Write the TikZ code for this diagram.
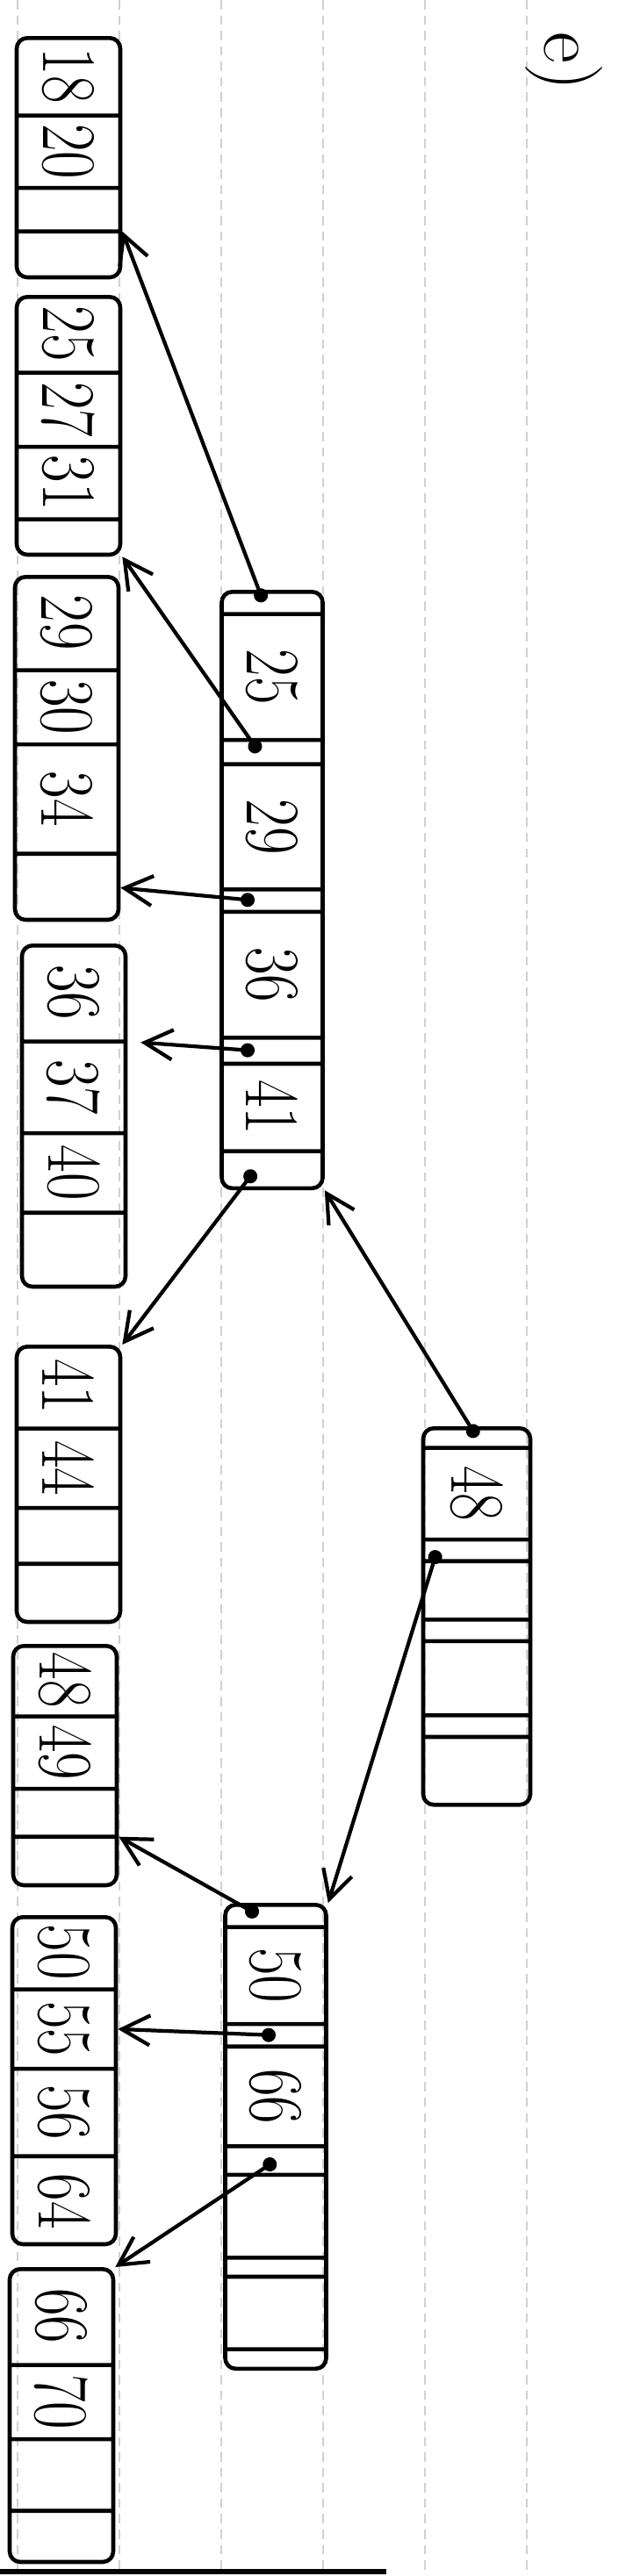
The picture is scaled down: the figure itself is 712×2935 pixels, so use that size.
\documentclass[tikz,border=0pt]{standalone}
\usepackage{tikz}
\usepackage{graphicx}
\usetikzlibrary{arrows.meta, positioning, shapes.multipart, calc}

% one cell of a B+ tree node, width in mm
\newcommand{\kc}[2]{\makebox[#1mm]{\scalebox{0.78}[1]{#2}}}

\begin{document}
\begin{tikzpicture}[
  x=0.1mm, y=0.1mm,
  bnode/.style = {rectangle split, rectangle split horizontal, rectangle split parts=#1, draw, line width=1.3pt, rounded corners=1.2mm, inner xsep=0pt, inner ysep=0pt, anchor=west, font=\fontsize{25}{27}\selectfont},
  leaf/.style = {bnode=4, minimum height=11.8mm},
  inner/.style = {bnode=9, minimum height=11.5mm},
  >={Straight Barb[length=3.2mm, width=3.4mm]},
  ptr/.style = {{Circle[length=1.6mm]}->, line width=1.2pt},
  ruling/.style = {black!18, line width=0.7pt, densely dashed}
  ]
  \useasboundingbox (0,0) rectangle (712,-2935);

  % Papier
  \foreach \x in {20,136,252,368,484,600}
    \draw[ruling] (\x,0) -- (\x,-2935);
  \draw[line width=1.6pt] (0,-2930) -- (440,-2930);

  \begin{scope}[rotate=-90, transform shape]
  \node[font=\fontsize{25}{27}\selectfont] (part) at (70,642) {e)};

  % Noeuds internes
  \node[bnode=8, minimum height=12.2mm] (root) at (1625,543) {\nodepart{one}\kc{2.0}{} \nodepart{two}\kc{10.0}{48} \nodepart{three}\kc{2.0}{} \nodepart{four}\kc{6.2}{} \nodepart{five}\kc{2.0}{} \nodepart{six}\kc{8.0}{} \nodepart{seven}\kc{2.0}{} \nodepart{eight}\kc{7.5}{}};
  \node[inner] (in1) at (672,310) {\nodepart{one}\kc{2.3}{} \nodepart{two}\kc{13.9}{25} \nodepart{three}\kc{2.3}{} \nodepart{four}\kc{13.8}{29} \nodepart{five}\kc{2.1}{} \nodepart{six}\kc{13.9}{36} \nodepart{seven}\kc{2.5}{} \nodepart{eight}\kc{9.5}{41} \nodepart{nine}\kc{4.0}{}};
  \node[inner] (in2) at (2168,314) {\nodepart{one}\kc{2.3}{} \nodepart{two}\kc{10.6}{50} \nodepart{three}\kc{2.1}{} \nodepart{four}\kc{10.9}{66} \nodepart{five}\kc{2.8}{} \nodepart{six}\kc{9.0}{} \nodepart{seven}\kc{1.7}{} \nodepart{eight}\kc{7.8}{} \nodepart{nine}\kc{2.0}{}};

  % Feuilles
  \node[leaf] (leaf1) at (41,78) {\nodepart{one}\kc{8.6}{18} \nodepart{two}\kc{7.8}{20} \nodepart{three}\kc{4.5}{} \nodepart{four}\kc{5.0}{}};
  \node[leaf] (leaf2) at (336,78) {\nodepart{one}\kc{8.4}{25} \nodepart{two}\kc{8.0}{27} \nodepart{three}\kc{7.8}{31} \nodepart{four}\kc{3.8}{}};
  \node[leaf] (leaf3) at (655,76) {\nodepart{one}\kc{10.4}{29} \nodepart{two}\kc{8.0}{30} \nodepart{three}\kc{12.0}{34} \nodepart{four}\kc{7.3}{}};
  \node[leaf] (leaf4) at (1075,84) {\nodepart{one}\kc{10.7}{36} \nodepart{two}\kc{10.0}{37} \nodepart{three}\kc{8.6}{40} \nodepart{four}\kc{8.2}{}};
  \node[leaf] (leaf5) at (1532,78) {\nodepart{one}\kc{9.1}{41} \nodepart{two}\kc{8.6}{44} \nodepart{three}\kc{5.9}{} \nodepart{four}\kc{6.4}{}};
  \node[leaf] (leaf6) at (1873,74) {\nodepart{one}\kc{7.8}{48} \nodepart{two}\kc{7.8}{49} \nodepart{three}\kc{5.0}{} \nodepart{four}\kc{5.3}{}};
  \node[leaf] (leaf7) at (2182,73) {\nodepart{one}\kc{8.0}{50} \nodepart{two}\kc{8.6}{55} \nodepart{three}\kc{9.5}{56} \nodepart{four}\kc{9.8}{64}};
  \node[leaf] (leaf8) at (2583,70) {\nodepart{one}\kc{10.7}{66} \nodepart{two}\kc{8.0}{70} \nodepart{three}\kc{7.7}{} \nodepart{four}\kc{5.6}{}};

  % Pointeurs
  \coordinate (rp1) at ($(root.west)!0.5!(root.one split)$);
  \coordinate (rp2) at ($(root.two split)!0.5!(root.three split)+(0,-45)$);
  \coordinate (i1p1) at ($(in1.west)!0.5!(in1.one split)+(0,-10)$);
  \coordinate (i1p2) at ($(in1.two split)!0.5!(in1.three split)+(0,-15)$);
  \coordinate (i1p3) at ($(in1.four split)!0.5!(in1.five split)+(0,-20)$);
  \coordinate (i1p4) at ($(in1.six split)!0.5!(in1.seven split)+(0,-20)$);
  \coordinate (i1p5) at ($(in1.eight split)!0.5!(in1.east)+(0,-20)$);
  \coordinate (i2p1) at ($(in2.west)!0.5!(in2.one split)+(0,-20)$);
  \coordinate (i2p2) at ($(in2.two split)!0.5!(in2.three split)$);
  \coordinate (i2p3) at ($(in2.four split)!0.5!(in2.five split)$);

  % Flèches
  \draw[ptr] (rp1) -- (in1.north east);
  \draw[ptr] (rp2) -- (in2.north west);
  \draw[ptr] (i1p1) -- (leaf1.three split north);
  \draw[ptr] (i1p2) -- (leaf2.north east);
  \draw[ptr] (i1p3) -- ($(leaf3.three split north)!0.5!(leaf3.north east)$);
  \draw[ptr, shorten >=1.5mm] (i1p4) -- (leaf4.one split north);
  \draw[ptr] (i1p5) -- (leaf5.north west);
  \draw[ptr] (i2p1) -- (leaf6.three split north);
  \draw[ptr] (i2p2) -- ($(leaf7.one split north)!0.5!(leaf7.two split north)$);
  \draw[ptr] (i2p3) -- (leaf8.north west);
  \end{scope}

\end{tikzpicture}
\end{document}
